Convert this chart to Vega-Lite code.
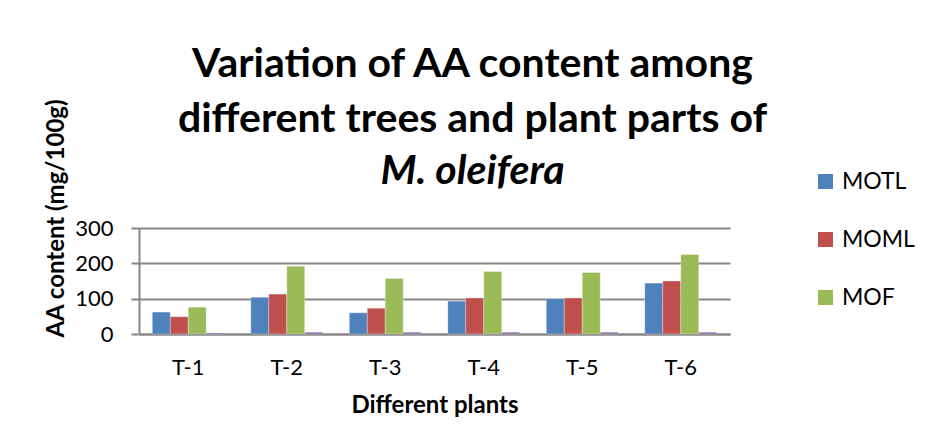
{
  "$schema": "https://vega.github.io/schema/vega-lite/v6.json",
  "autosize": {"type": "none"},
  "width": 591,
  "height": 106,
  "padding": {"left": 139, "top": 228, "right": 203, "bottom": 113},
  "background": "white",
  "title": {
    "text": ["Variation of AA content among", "different trees and plant parts of"],
    "subtitle": "M. oleifera",
    "anchor": "middle",
    "dx": 38,
    "offset": -94,
    "font": "Lato",
    "fontSize": 41,
    "fontWeight": "bold",
    "lineHeight": 55,
    "color": "black",
    "subtitleFont": "Lato",
    "subtitleFontSize": 41,
    "subtitleFontWeight": "bold",
    "subtitleFontStyle": "italic",
    "subtitleColor": "black",
    "subtitlePadding": 11
  },
  "data": {
    "values": [
      {"tree": "T-1", "part": "MOTL", "aa": 62},
      {"tree": "T-1", "part": "MOML", "aa": 49},
      {"tree": "T-1", "part": "MOF", "aa": 76},
      {"tree": "T-1", "part": "Series4", "aa": 3},
      {"tree": "T-2", "part": "MOTL", "aa": 104},
      {"tree": "T-2", "part": "MOML", "aa": 113},
      {"tree": "T-2", "part": "MOF", "aa": 192},
      {"tree": "T-2", "part": "Series4", "aa": 5},
      {"tree": "T-3", "part": "MOTL", "aa": 60},
      {"tree": "T-3", "part": "MOML", "aa": 73},
      {"tree": "T-3", "part": "MOF", "aa": 157},
      {"tree": "T-3", "part": "Series4", "aa": 5},
      {"tree": "T-4", "part": "MOTL", "aa": 93},
      {"tree": "T-4", "part": "MOML", "aa": 102},
      {"tree": "T-4", "part": "MOF", "aa": 177},
      {"tree": "T-4", "part": "Series4", "aa": 5},
      {"tree": "T-5", "part": "MOTL", "aa": 100},
      {"tree": "T-5", "part": "MOML", "aa": 102},
      {"tree": "T-5", "part": "MOF", "aa": 174},
      {"tree": "T-5", "part": "Series4", "aa": 5},
      {"tree": "T-6", "part": "MOTL", "aa": 144},
      {"tree": "T-6", "part": "MOML", "aa": 150},
      {"tree": "T-6", "part": "MOF", "aa": 225},
      {"tree": "T-6", "part": "Series4", "aa": 5}
    ]
  },
  "mark": {"type": "bar", "stroke": "white", "strokeWidth": 0.5, "strokeOpacity": 0.6},
  "encoding": {
    "x": {
      "field": "tree",
      "type": "nominal",
      "sort": ["T-1", "T-2", "T-3", "T-4", "T-5", "T-6"],
      "scale": {"paddingInner": 0.27, "paddingOuter": 0.135},
      "axis": {
        "title": "Different plants",
        "labelAngle": 0,
        "ticks": false,
        "labelPadding": 23,
        "titlePadding": 15,
        "labelFontSize": 22,
        "titleFontSize": 24
      }
    },
    "xOffset": {
      "field": "part",
      "type": "nominal",
      "sort": ["MOTL", "MOML", "MOF", "Series4"],
      "scale": {"paddingInner": 0, "paddingOuter": 0}
    },
    "y": {
      "field": "aa",
      "type": "quantitative",
      "scale": {"domain": [0, 300], "nice": false},
      "axis": {
        "title": "AA content (mg/100g)",
        "values": [0, 100, 200, 300],
        "tickSize": 8,
        "labelPadding": 18,
        "titlePadding": 6,
        "titleY": -10,
        "labelFontSize": 22,
        "titleFontSize": 24
      }
    },
    "color": {
      "field": "part",
      "type": "nominal",
      "scale": {
        "domain": ["MOTL", "MOML", "MOF", "Series4"],
        "range": ["#4F81BD", "#C0504D", "#9BBB59", "#8064A2"]
      },
      "legend": {
        "title": null,
        "values": ["MOTL", "MOML", "MOF"],
        "orient": "none",
        "legendX": 675,
        "legendY": -58,
        "symbolType": "square",
        "symbolSize": 225,
        "symbolStrokeWidth": 0,
        "labelFontSize": 23,
        "labelOffset": 5,
        "rowPadding": 34
      }
    }
  },
  "config": {
    "font": "Lato",
    "view": {"stroke": null},
    "axis": {
      "labelFont": "Lato",
      "titleFont": "Lato",
      "labelColor": "black",
      "titleColor": "black",
      "titleFontWeight": "bold",
      "domainColor": "#868686",
      "domainWidth": 2,
      "tickColor": "#868686",
      "tickWidth": 2,
      "gridColor": "#868686",
      "gridWidth": 2
    },
    "axisX": {"grid": false},
    "axisY": {"grid": true, "domain": true},
    "legend": {"labelFont": "Lato", "labelColor": "black"}
  }
}
